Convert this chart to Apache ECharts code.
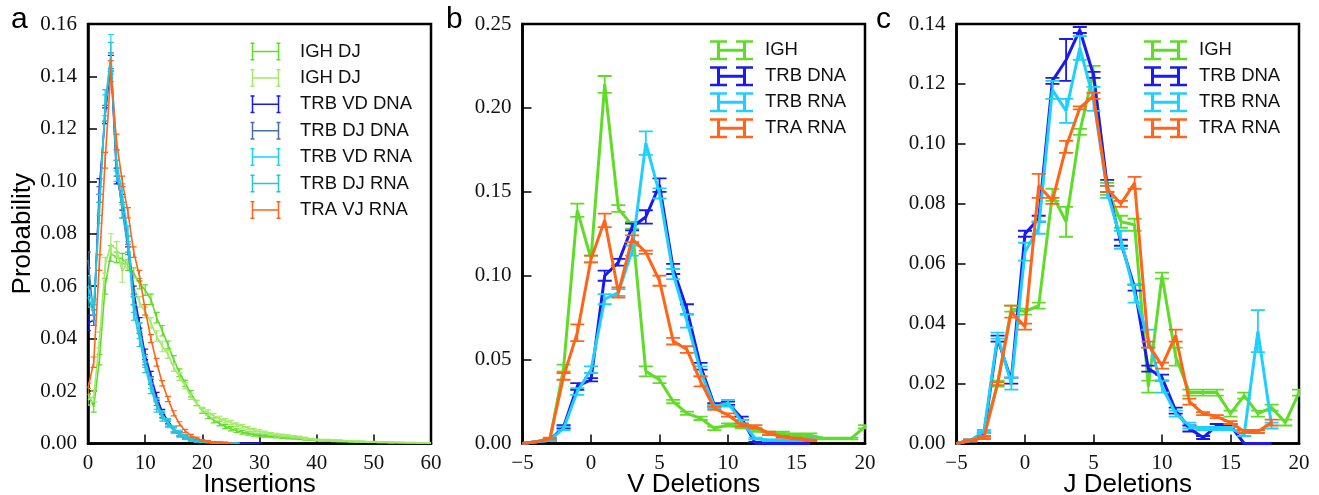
<!DOCTYPE html>
<html><head><meta charset="utf-8">
<script src="https://cdn.jsdelivr.net/npm/echarts@6/dist/echarts.min.js"></script>
<style>html,body{margin:0;padding:0;background:#fff}#c{width:1319px;height:495px}</style>
</head><body><div id="c"></div>
<script>
// ---------- Panel a: Insertions ----------
const insX = [0,1,2,3,4,5,6,7,8,9,10,11,12,13,14,15,16,17,18,19,20,21,22,23,24,25,26,27,28,29,30,
  31,32,33,34,35,36,37,38,39,40,41,42,43,44,45,46,47,48,49,50,51,52,53,54,55,56,57,58,59,60];
const ighDJ1 = [0.019,0.014,0.032,0.060,0.0725,0.071,0.0705,0.068,0.065,0.061,
  0.0585,0.055,0.048,0.043,0.0376,0.032,0.027,0.023,0.019,0.0155,
  0.0125,0.0105,0.0088,0.0076,0.0065,0.0056,0.0049,0.0043,0.0038,0.0034,
  0.0031,0.0029,0.0027,0.0026,0.0024,0.0022,0.0021,0.0019,0.0017,0.0015,
  0.0013,0.0012,0.0011,0.0010,0.0009,0.0008,0.0007,0.0006,0.0006,0.0005,
  0.0005,0.0004,0.0004,0.0003,0.0003,0.0003,0.0002,0.0002,0.0002,0.0002,0.0002];
const ighDJ1Err = [0.002,0.002,0.002,0.003,0.003,0.002,0.002,0.002,0.002,0.002,
  0.002,0.002,0.002,0.002,0.0015,0.0015,0.0015,0.0012,0.0012,0.001,
  0.001,0.001,0.0009,0.0009,0.0008,0.0008,0.0007,0.0007,0.0006,0.0006,
  0.0006,0.0005,0.0005,0.0005,0.0005,0.0004,0.0004,0.0004,0.0004,0.0003,
  0.0003,0.0003,0.0003,0.0003,0.0003,0.0002,0.0002,0.0002,0.0002,0.0002,
  0.0002,0.0002,0.0002,0.0002,0.0001,0.0001,0.0001,0.0001,0.0001,0.0001,0.0001];
const ighDJ2 = [0.0166,0.018,0.0395,0.068,0.076,0.074,0.0655,0.070,0.060,0.054,
  0.050,0.046,0.041,0.037,0.034,0.029,0.0255,0.022,0.018,0.0153,
  0.0128,0.0118,0.0105,0.0095,0.0087,0.008,0.0072,0.0066,0.0058,0.0052,
  0.0046,0.0042,0.0037,0.0034,0.0031,0.0029,0.0026,0.0024,0.0020,0.0017,
  0.0014,0.0013,0.0013,0.0012,0.0011,0.0010,0.0009,0.0008,0.0007,0.0006,
  0.0006,0.0005,0.0005,0.0004,0.0004,0.0003,0.0003,0.0003,0.0002,0.0002,0.0002];
const ighDJ2Err = [0.002,0.002,0.003,0.003,0.004,0.003,0.004,0.003,0.003,0.002,
  0.002,0.002,0.002,0.002,0.0015,0.0015,0.0015,0.0012,0.0012,0.001,
  0.001,0.001,0.0009,0.0009,0.0008,0.0008,0.0007,0.0007,0.0006,0.0006,
  0.0006,0.0005,0.0005,0.0005,0.0005,0.0004,0.0004,0.0004,0.0004,0.0003,
  0.0003,0.0003,0.0003,0.0003,0.0003,0.0002,0.0002,0.0002,0.0002,0.0002,
  0.0002,0.0002,0.0002,0.0002,0.0001,0.0001,0.0001,0.0001,0.0001,0.0001,0.0001];
const trbVdDna = [0.046,0.047,0.098,0.125,0.145,0.102,0.092,0.077,0.058,0.046,
  0.034,0.026,0.018,0.012,0.0085,0.0055,0.0038,0.0026,0.0017,0.0012,
  0.0008,0.0006,0.0004,0.0003,0.0002,0.0002,0.0001,0.0001,0.0001,0.0001,0.0001];
const trbVdDnaErr = [0.003,0.002,0.003,0.003,0.003,0.003,0.003,0.002,0.002,0.002,
  0.002,0.0015,0.0015,0.001,0.001,0.001,0.0008,0.0006,0.0005,0.0004,
  0.0003,0.0003,0.0002,0.0002,0.0002,0.0001,0.0001,0.0001,0.0001,0.0001,0.0001];
const trbDjDna = [0.070,0.048,0.095,0.126,0.146,0.105,0.089,0.074,0.055,0.044,
  0.032,0.024,0.016,0.011,0.0075,0.005,0.0033,0.0022,0.0015,0.001,
  0.0007,0.0005,0.0003,0.0002,0.0002,0.0001,0.0001];
const trbDjDnaErr = [0.003,0.003,0.003,0.003,0.003,0.003,0.003,0.002,0.002,0.002,
  0.002,0.0015,0.0015,0.001,0.001,0.001,0.0008,0.0006,0.0005,0.0004,
  0.0003,0.0003,0.0002,0.0002,0.0001,0.0001,0.0001];
const trbVdRna = [0.060,0.052,0.091,0.128,0.149,0.108,0.095,0.080,0.053,0.043,
  0.031,0.023,0.015,0.011,0.008,0.0055,0.004,0.0028,0.0018,0.0012,
  0.0008,0.0005,0.0004,0.0003,0.0002,0.0001,0.0001];
const trbVdRnaErr = [0.004,0.003,0.004,0.005,0.007,0.004,0.004,0.003,0.003,0.003,
  0.002,0.002,0.002,0.0015,0.0015,0.001,0.001,0.0008,0.0006,0.0005,
  0.0004,0.0003,0.0003,0.0002,0.0002,0.0001,0.0001];
const trbDjRna = [0.056,0.050,0.088,0.130,0.147,0.104,0.090,0.076,0.050,0.040,
  0.029,0.021,0.014,0.010,0.0075,0.005,0.0035,0.0024,0.0016,0.001,
  0.0007,0.0005,0.0003,0.0002,0.0002,0.0001,0.0001];
const trbDjRnaErr = [0.004,0.003,0.004,0.005,0.006,0.004,0.004,0.003,0.003,0.003,
  0.002,0.002,0.002,0.0015,0.0015,0.001,0.001,0.0008,0.0006,0.0005,
  0.0004,0.0003,0.0003,0.0002,0.0002,0.0001,0.0001];
const traVjRna = [0.021,0.031,0.069,0.108,0.142,0.115,0.100,0.088,0.073,0.064,
  0.051,0.040,0.031,0.023,0.017,0.0115,0.0075,0.0048,0.003,0.002,
  0.0012,0.0008,0.0005,0.0003,0.0002,0.0001];
const traVjRnaErr = [0.002,0.002,0.003,0.003,0.004,0.003,0.002,0.002,0.002,0.002,
  0.002,0.0015,0.0015,0.001,0.001,0.001,0.0008,0.0006,0.0005,0.0004,
  0.0003,0.0003,0.0002,0.0002,0.0001,0.0001];

// ---------- Panel b: V deletions ----------
const delX = [-5,-4,-3,-2,-1,0,1,2,3,4,5,6,7,8,9,10,11,12,13,14,15,16,17,18,19,20];
const vIgh = [0.000,0.001,0.002,0.045,0.139,0.110,0.214,0.140,0.130,0.043,0.038,0.025,0.018,0.015,0.009,0.011,0.010,0.008,0.006,0.006,0.005,0.005,0.003,0.003,0.003,0.010];
const vIghErr = [0,0,0.0005,0.002,0.004,0.002,0.005,0.002,0.002,0.003,0.002,0.001,0.001,0.001,0.001,0.001,0.001,0.001,0.001,0.001,0.001,0.001,0.0005,0.0005,0.0005,0.001];
const vTrbDna = [0,0.001,0.002,0.010,0.034,0.038,0.100,0.108,0.129,0.135,0.154,0.104,0.080,0.046,0.023,0.024,0.015,0,0,0,0,0];
const vTrbDnaErr = [0,0,0.0005,0.001,0.002,0.001,0.003,0.002,0.002,0.004,0.004,0.003,0.003,0.002,0.001,0.001,0.001,0.001,0,0,0,0];
const vTrbRna = [0,0.001,0.002,0.009,0.031,0.044,0.086,0.090,0.115,0.179,0.149,0.101,0.073,0.043,0.022,0.024,0.013,0.003,0.002,0.002,0.002,0.003];
const vTrbRnaErr = [0,0,0.0005,0.001,0.002,0.002,0.003,0.002,0.003,0.007,0.003,0.003,0.004,0.003,0.001,0.002,0.001,0.0005,0.0005,0.0005,0.0005,0.0005];
const vTraRna = [0,0.001,0.003,0.040,0.066,0.110,0.133,0.090,0.122,0.114,0.097,0.061,0.056,0.037,0.021,0.017,0.011,0.010,0.006,0.004,0.003,0.002];
const vTraRnaErr = [0,0,0.0005,0.002,0.005,0.002,0.004,0.003,0.002,0.001,0.003,0.002,0.002,0.003,0.001,0.001,0.001,0.001,0.001,0.0005,0.0005,0.0005];

// ---------- Panel c: J deletions ----------
const jIgh = [0.000,0.001,0.003,0.020,0.045,0.044,0.046,0.083,0.074,0.104,0.124,0.085,0.074,0.073,0.019,0.056,0.029,0.017,0.017,0.017,0.010,0.016,0.010,0.012,0.007,0.017];
const jIghErr = [0,0.0003,0.001,0.001,0.001,0.001,0.001,0.002,0.005,0.001,0.002,0.002,0.002,0.002,0.002,0.001,0.003,0.001,0.001,0.001,0.001,0.001,0.001,0.001,0.001,0.001];
const jTrbDna = [0,0.001,0.003,0.035,0.021,0.070,0.075,0.121,0.128,0.138,0.123,0.086,0.067,0.052,0.025,0.022,0.011,0.005,0.002,0.006,0.006,0,0,0];
const jTrbDnaErr = [0,0.0003,0.0005,0.001,0.001,0.001,0.001,0.001,0.007,0.001,0.001,0.002,0.001,0.001,0.001,0.001,0.001,0.001,0.0005,0.0005,0.0005,0,0,0];
const jTrbRna = [0,0.001,0.004,0.036,0.020,0.064,0.072,0.118,0.111,0.132,0.115,0.084,0.068,0.050,0.035,0.019,0.010,0.006,0.005,0.005,0.005,0.003,0.0375,0.006];
const jTrbRnaErr = [0,0.0003,0.0005,0.001,0.002,0.003,0.002,0.003,0.004,0.004,0.004,0.002,0.003,0.003,0.003,0.002,0.001,0.001,0.0005,0.0005,0.0005,0.0005,0.007,0.001];
const jTraRna = [0,0.001,0.002,0.020,0.044,0.039,0.086,0.081,0.099,0.112,0.116,0.085,0.080,0.087,0.033,0.026,0.036,0.014,0.010,0.009,0.007,0.004,0.004,0.007];
const jTraRnaErr = [0,0.0003,0.0005,0.0005,0.002,0.001,0.004,0.001,0.002,0.0005,0.001,0.001,0.001,0.002,0.001,0.001,0.002,0.001,0.0005,0.0005,0.0005,0.0005,0.0005,0.001];

// tick labels
const ticksA = [0,10,20,30,40,50,60];
const ticksBC = [-5,0,5,10,15,20];

const C = {
  green: '#5fdc28', lightGreen: '#a4e86c', blue: '#1a1aee', steel: '#4a6ea8',
  cyan: '#1fd0ff', turq: '#25c4d8', orange: '#ff6418'
};

const chart = echarts.init(document.getElementById('c'), null, {renderer: 'canvas'});
const series = [];

function errRender(capHalf, lw) {
  return function (params, api) {
    const x = api.value(0), y = api.value(1), e = api.value(2);
    if (!e) return null;
    const t = api.coord([x, y + e]), b = api.coord([x, y - e]);
    const style = {stroke: api.visual('color'), lineWidth: lw, fill: null};
    return {type: 'group', children: [
      {type: 'line', shape: {x1: t[0], y1: t[1], x2: b[0], y2: b[1]}, style: style},
      {type: 'line', shape: {x1: t[0] - capHalf, y1: t[1], x2: t[0] + capHalf, y2: t[1]}, style: style},
      {type: 'line', shape: {x1: b[0] - capHalf, y1: b[1], x2: b[0] + capHalf, y2: b[1]}, style: style}
    ]};
  };
}

function add(grid, name, xs, ys, es, color, lw, capHalf, ebw, z) {
  series.push({
    type: 'custom', name: name, xAxisIndex: grid, yAxisIndex: grid,
    itemStyle: {color: color}, clip: true, z: z + 1,
    renderItem: errRender(capHalf, ebw),
    encode: {x: 0, y: 1},
    data: ys.map((y, i) => [xs[i], y, es[i]])
  });
  series.push({
    type: 'line', name: name + ' line', xAxisIndex: grid, yAxisIndex: grid,
    symbol: 'none', clip: true, z: z, animation: false,
    lineStyle: {color: color, width: lw}, itemStyle: {color: color},
    data: ys.map((y, i) => [xs[i], y])
  });
}

add(0, 'a:IGH DJ', insX, ighDJ1, ighDJ1Err, C.green, 1.6, 3, 1.2, 2);
add(0, 'a:IGH DJ#2', insX, ighDJ2, ighDJ2Err, C.lightGreen, 1.6, 3, 1.2, 3);
add(0, 'a:TRB VD DNA', insX, trbVdDna, trbVdDnaErr, C.blue, 1.6, 3, 1.2, 4);
add(0, 'a:TRB DJ DNA', insX, trbDjDna, trbDjDnaErr, C.steel, 1.6, 3, 1.2, 5);
add(0, 'a:TRB VD RNA', insX, trbVdRna, trbVdRnaErr, C.cyan, 1.6, 3, 1.2, 6);
add(0, 'a:TRB DJ RNA', insX, trbDjRna, trbDjRnaErr, C.turq, 1.6, 3, 1.2, 7);
add(0, 'a:TRA VJ RNA', insX, traVjRna, traVjRnaErr, C.orange, 1.6, 3, 1.2, 8);

add(1, 'b:IGH', delX, vIgh, vIghErr, C.green, 3, 7, 1.8, 2);
add(1, 'b:TRB DNA', delX, vTrbDna, vTrbDnaErr, C.blue, 3, 7, 1.8, 4);
add(1, 'b:TRB RNA', delX, vTrbRna, vTrbRnaErr, C.cyan, 3, 7, 1.8, 6);
add(1, 'b:TRA RNA', delX, vTraRna, vTraRnaErr, C.orange, 3, 7, 1.8, 8);

add(2, 'c:IGH', delX, jIgh, jIghErr, C.green, 3, 7, 1.8, 2);
add(2, 'c:TRB DNA', delX, jTrbDna, jTrbDnaErr, C.blue, 3, 7, 1.8, 4);
add(2, 'c:TRB RNA', delX, jTrbRna, jTrbRnaErr, C.cyan, 3, 7, 1.8, 6);
add(2, 'c:TRA RNA', delX, jTraRna, jTraRnaErr, C.orange, 3, 7, 1.8, 8);

const SANS = 'Liberation Sans, Arial, Helvetica, sans-serif';
const SERIF = 'Liberation Serif, Times New Roman, serif';
const minus = v => (v < 0 ? '\u2212' + (-v) : String(v));

function xAx(grid, min, max, interval, name) {
  return {
    type: 'value', gridIndex: grid, min: min, max: max, interval: interval,
    name: name, nameLocation: 'middle', nameGap: 28, nameMoveOverlap: false,
    nameTextStyle: {fontFamily: SANS, fontSize: 26, color: '#000'},
    axisLine: {show: true, onZero: false, lineStyle: {color: '#000', width: 2.5}},
    axisTick: {show: true, inside: true, length: 9, lineStyle: {color: '#000', width: 1.5}},
    axisLabel: {show: true, margin: 9, fontFamily: SERIF, fontSize: 21, color: '#111', formatter: minus,
      showMinLabel: true, showMaxLabel: true},
    splitLine: {show: false}
  };
}
function yAx(grid, max, interval, name) {
  return {
    type: 'value', gridIndex: grid, min: 0, max: max, interval: interval,
    name: name || '', nameLocation: 'middle', nameGap: 52,
    nameTextStyle: {fontFamily: SANS, fontSize: 26, color: '#000'},
    axisLine: {show: true, onZero: false, lineStyle: {color: '#000', width: 2.5}},
    axisTick: {show: true, inside: true, length: 9, lineStyle: {color: '#000', width: 1.5}},
    axisLabel: {show: true, margin: 11, fontFamily: SERIF, fontSize: 21, color: '#111',
      formatter: v => v.toFixed(2), showMinLabel: true, showMaxLabel: true},
    splitLine: {show: false}
  };
}

const gridBase = {top: 24, height: 419.5, show: true, borderColor: '#000', borderWidth: 2.5,
  backgroundColor: 'transparent', containLabel: false, outerBoundsMode: 'none'};

const iconA = 'path://M0,0h4v1.5h-4z M0,16.5h4v1.5h-4z M1.25,0h1.5v18h-1.5z M26,0h4v1.5h-4z M26,16.5h4v1.5h-4z M27.25,0h1.5v18h-1.5z M2,8.25h26v1.5h-26z';
const iconB = 'path://M0,0h17v2.5h-17z M0,17.5h17v2.5h-17z M7,0h3v20h-3z M26,0h17v2.5h-17z M26,17.5h17v2.5h-17z M33,0h3v20h-3z M7,8.5h29v3h-29z';
const legendFmt = n => n.split(':')[1].split('#')[0];

function legend(names, icon, left, top, w, h, gap, pad) {
  return {
    orient: 'vertical', left: left, top: top, padding: 0, itemWidth: w, itemHeight: h, itemGap: gap,
    selectedMode: false, formatter: legendFmt,
    textStyle: {fontFamily: SANS, fontSize: 18.5, lineHeight: h, color: '#111', padding: [0, 0, 0, pad]},
    data: names.map(n => ({name: n, icon: icon}))
  };
}

const titleStyle = {fontFamily: SANS, fontSize: 30, fontWeight: 'normal', color: '#000'};
const option = {
  animation: false,
  backgroundColor: '#fff',
  title: [
    {text: 'a', left: 11, top: 5, padding: 0, textStyle: titleStyle},
    {text: 'b', left: 446, top: 5, padding: 0, textStyle: titleStyle},
    {text: 'c', left: 876, top: 5, padding: 0, textStyle: titleStyle}
  ],
  grid: [
    Object.assign({left: 88, width: 343}, gridBase),
    Object.assign({left: 522.5, width: 342.5}, gridBase),
    Object.assign({left: 956.5, width: 342.5}, gridBase)
  ],
  xAxis: [
    xAx(0, 0, 60, 10, 'Insertions'),
    xAx(1, -5, 20, 5, 'V Deletions'),
    xAx(2, -5, 20, 5, 'J Deletions')
  ],
  yAxis: [
    yAx(0, 0.16, 0.02, 'Probability'),
    yAx(1, 0.25, 0.05),
    yAx(2, 0.14, 0.02)
  ],
  legend: [
    legend(['a:IGH DJ', 'a:IGH DJ#2', 'a:TRB VD DNA', 'a:TRB DJ DNA', 'a:TRB VD RNA', 'a:TRB DJ RNA', 'a:TRA VJ RNA'],
      iconA, 250.5, 42, 30, 18, 7.4, 14.5),
    legend(['b:IGH', 'b:TRB DNA', 'b:TRB RNA', 'b:TRA RNA'], iconB, 710, 40.3, 43, 20, 6.0, 7),
    legend(['c:IGH', 'c:TRB DNA', 'c:TRB RNA', 'c:TRA RNA'], iconB, 1144, 40.3, 43, 20, 6.0, 7)
  ],
  series: series
};
chart.setOption(option);
</script></body></html>
